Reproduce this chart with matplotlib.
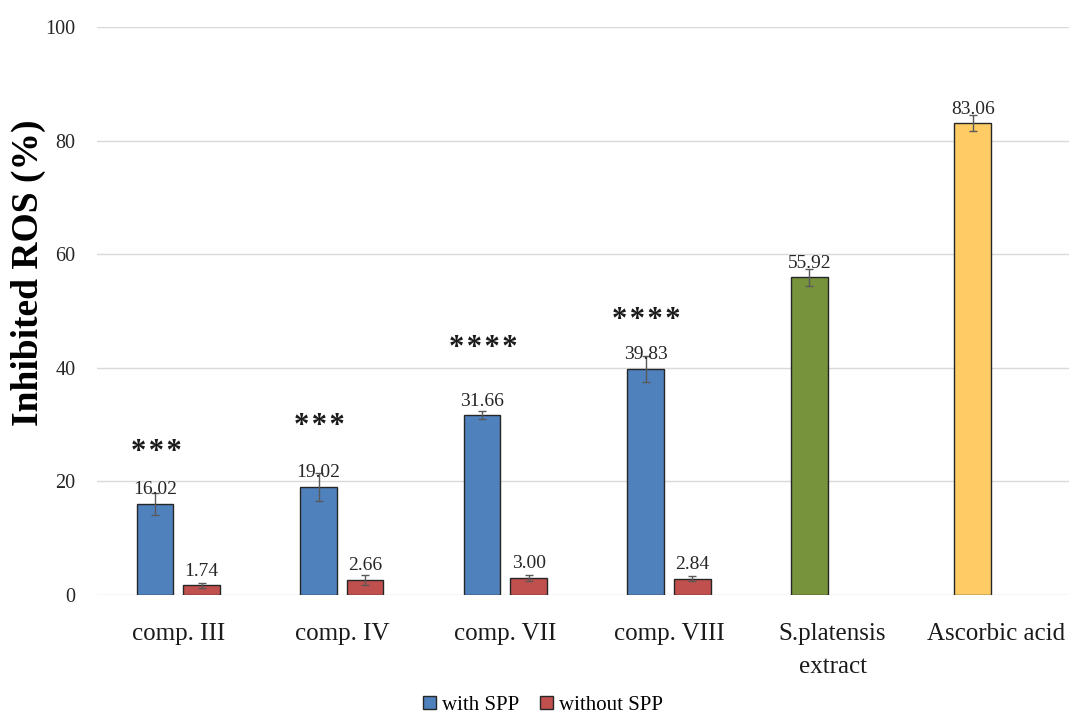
import numpy as np
import matplotlib
matplotlib.use("Agg")
import matplotlib.pyplot as plt
from matplotlib.patches import Patch

plt.rcParams['font.family'] = ['Liberation Serif', 'DejaVu Serif']

# data
categories = ['comp. III', 'comp. IV', 'comp. VII', 'comp. VIII',
              'S.platensis\nextract', 'Ascorbic acid']
with_spp = [16.02, 19.02, 31.66, 39.83, 55.92, 83.06]
with_spp_err = [2.0, 2.4, 0.75, 2.3, 1.5, 1.45]
without_spp = [1.74, 2.66, 3.00, 2.84]
without_spp_err = [0.45, 0.9, 0.45, 0.44]
stars = ['***', '***', '****', '****']
star_y = [26.1, 30.8, 44.4, 49.3]

with_colors = ['#4f81bd'] * 4 + ['#77933c', '#fecb65']
without_color = '#c0504d'

fig = plt.figure(figsize=(10.69, 7.13), dpi=100)
ax = fig.add_axes([0.0903, 0.1655, 0.918, 0.7966])

x = np.arange(len(categories))
w = 0.224
off = 0.1425

ax.bar(x - off, with_spp, w, color=with_colors, edgecolor='#262626',
       linewidth=1, zorder=3)
ax.errorbar(x - off, with_spp, yerr=with_spp_err, fmt='none', ecolor='#595959',
            elinewidth=1, capsize=3, capthick=1, zorder=4)
xr = x[:len(without_spp)] + off
ax.bar(xr, without_spp, w, color=without_color, edgecolor='#262626',
       linewidth=1, zorder=3)
ax.errorbar(xr, without_spp, yerr=without_spp_err, fmt='none', ecolor='#595959',
            elinewidth=1, capsize=3, capthick=1, zorder=4)

# value labels just above each bar
for xi, v in list(zip(x - off, with_spp)) + list(zip(xr, without_spp)):
    ax.annotate(f'{v:.2f}', (xi, v), xytext=(0, 4), textcoords='offset points',
                ha='center', va='bottom', fontsize=14, color='#262626', zorder=5)

# significance marks, spaced out a little
for xi, s, sy in zip(x[:4] - off, stars, star_y):
    ax.annotate('\u200a'.join(s), (xi, sy), xytext=(1, -6),
                textcoords='offset pixels', ha='center', va='center',
                fontsize=22, fontweight='bold', color='#1a1a1a')

ax.set_xlim(-0.5, len(categories) - 0.5)
ax.set_ylim(0, 100)
ax.set_yticks(range(0, 101, 20))
ax.set_xticks(x)
ax.set_xticklabels(categories, fontsize=18, color='#1a1a1a', linespacing=1.65)
ax.tick_params(axis='y', labelsize=14.5, length=0, pad=15, labelcolor='#262626')
ax.tick_params(axis='x', length=0, pad=20)
ax.yaxis.grid(True, color='#d9d9d9', linewidth=1, zorder=0)
for s in ax.spines.values():
    s.set_visible(False)
ax.set_ylabel('Inhibited ROS (%)', fontsize=27, fontweight='bold')
ax.yaxis.set_label_coords(-0.052, 0.567)

handles = [Patch(facecolor='#4f81bd', edgecolor='#262626', label='with SPP'),
           Patch(facecolor=without_color, edgecolor='#262626', label='without SPP')]
fig.legend(handles=handles, loc='center', bbox_to_anchor=(0.508, 0.011),
           ncol=2, frameon=False, fontsize=15, handlelength=0.6,
           handleheight=0.6, handletextpad=0.3, columnspacing=1.0)

fig.savefig('out.png', dpi=100)
